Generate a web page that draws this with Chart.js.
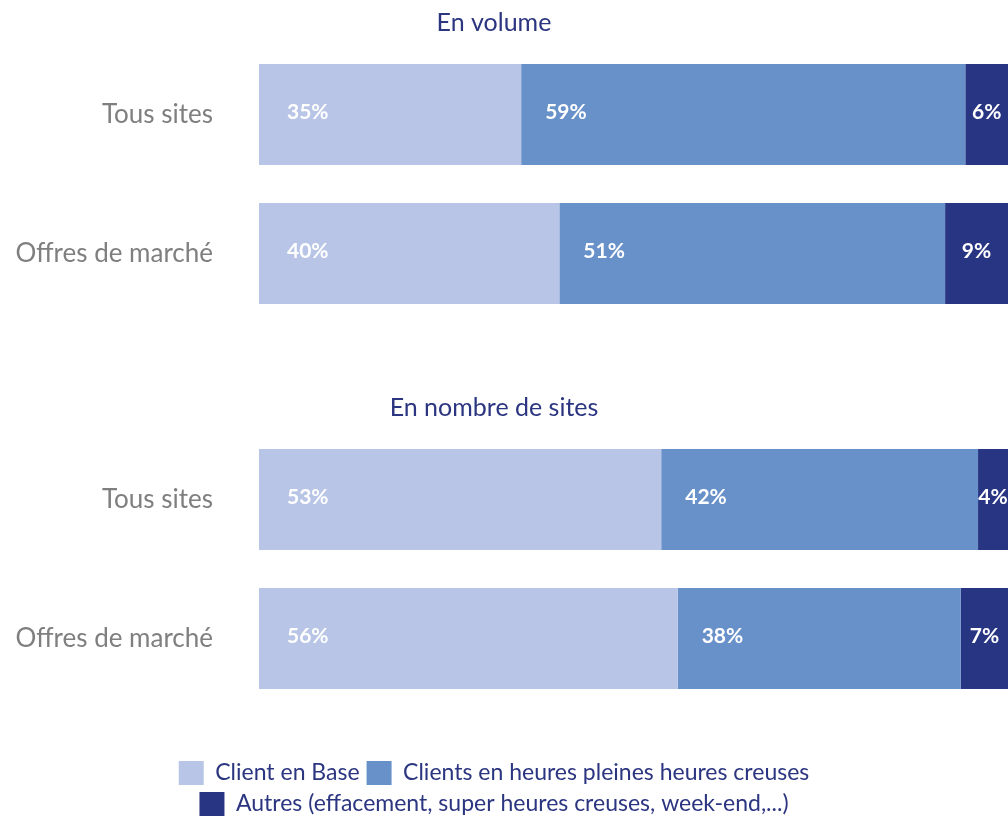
<!DOCTYPE html>
<html>
<head>
<meta charset="utf-8">
<script src="https://cdn.jsdelivr.net/npm/chart.js@4.4.1/dist/chart.umd.min.js"></script>
<style>
  html, body { margin: 0; padding: 0; background: #fff; overflow: hidden; }
  /* panels start 20px left of the window so the centred titles/legend sit where the original has them */
  .panel { position: absolute; left: -20px; width: 1028px; }
  #volumePanel { top: 0; height: 323px; }
  #sitesPanel { top: 385px; height: 441px; }
</style>
</head>
<body>
<div class="panel" id="volumePanel"><canvas id="volumeChart"></canvas></div>
<div class="panel" id="sitesPanel"><canvas id="sitesChart"></canvas></div>
<script>
const FONT = 'Lato';
const rowLabels = ['Tous sites', 'Offres de marché'];
const seriesNames = [
  'Client en Base',
  'Clients en heures pleines heures creuses',
  'Autres (effacement, super heures creuses, week-end,...)'
];
const seriesColors = ['#b8c5e6', '#6890c9', '#283583'];

// En volume (share in %)
const volumeBase = [35.0, 40.1];
const volumeHpHc = [59.3, 51.5];
const volumeOther = [5.7, 8.4];
// labels printed on the bars
const volumeBaseShown = [35, 40];
const volumeHpHcShown = [59, 51];
const volumeOtherShown = [6, 9];

// En nombre de sites
const sitesBase = [53.7, 55.9];
const sitesHpHc = [42.3, 37.8];
const sitesOther = [4.0, 6.3];
const sitesBaseShown = [53, 56];
const sitesHpHcShown = [42, 38];
const sitesOtherShown = [4, 7];

const segmentLabels = {
  id: 'segmentLabels',
  afterDatasetsDraw(chart) {
    const { ctx } = chart;
    const count = chart.data.datasets.length;
    ctx.save();
    ctx.fillStyle = '#ffffff';
    ctx.font = `bold 21px ${FONT}`;
    ctx.textBaseline = 'middle';
    chart.data.datasets.forEach((ds, i) => {
      chart.getDatasetMeta(i).data.forEach((bar, j) => {
        const text = ds.shown[j] + '%';
        const start = Math.min(bar.x, bar.base);
        if (i === count - 1) {
          ctx.textAlign = 'center';
          ctx.fillText(text, (bar.x + bar.base) / 2, bar.y - 2);
        } else {
          ctx.textAlign = 'left';
          ctx.fillText(text, start + (i === 0 ? 28 : 24), bar.y - 2);
        }
      });
    });
    ctx.restore();
  }
};

function buildChart(canvasId, title, values, shown, withLegend) {
  return new Chart(document.getElementById(canvasId), {
    type: 'bar',
    data: {
      labels: rowLabels,
      datasets: values.map((data, i) => ({
        label: seriesNames[i],
        data,
        shown: shown[i],
        backgroundColor: seriesColors[i],
        categoryPercentage: 1,
        barPercentage: 101 / 139,
      })),
    },
    options: {
      indexAxis: 'y',
      responsive: true,
      maintainAspectRatio: false,
      animation: false,
      layout: { padding: 0 },
      scales: {
        x: {
          stacked: true, min: 0, max: 100, display: withLegend,
          ticks: { display: false }, grid: { display: false }, border: { display: false },
          afterFit: scale => { scale.height = withLegend ? 46 : 0; },
        },
        y: {
          stacked: true,
          grid: { display: false, drawTicks: false }, border: { display: false },
          ticks: { color: '#7f7f7f', font: { family: FONT, size: 26 }, padding: 46 },
          afterFit: scale => {
            scale.width = 279;
            // tick padding should only push labels sideways
            scale.paddingTop = 0;
            scale.paddingBottom = 0;
          },
        },
      },
      plugins: {
        title: {
          display: true, text: title, color: '#2b3580',
          font: { family: FONT, size: 25, weight: 'normal' },
          padding: { top: 8, bottom: 7 },
        },
        legend: {
          display: withLegend,
          position: 'bottom',
          labels: {
            color: '#2b3580', font: { family: FONT, size: 23 },
            boxWidth: 25, boxHeight: 24, padding: 7,
          },
        },
        tooltip: { enabled: false },
      },
    },
    plugins: [segmentLabels],
  });
}

buildChart('volumeChart', 'En volume',
  [volumeBase, volumeHpHc, volumeOther],
  [volumeBaseShown, volumeHpHcShown, volumeOtherShown], false);

buildChart('sitesChart', 'En nombre de sites',
  [sitesBase, sitesHpHc, sitesOther],
  [sitesBaseShown, sitesHpHcShown, sitesOtherShown], true);
</script>
</body>
</html>
